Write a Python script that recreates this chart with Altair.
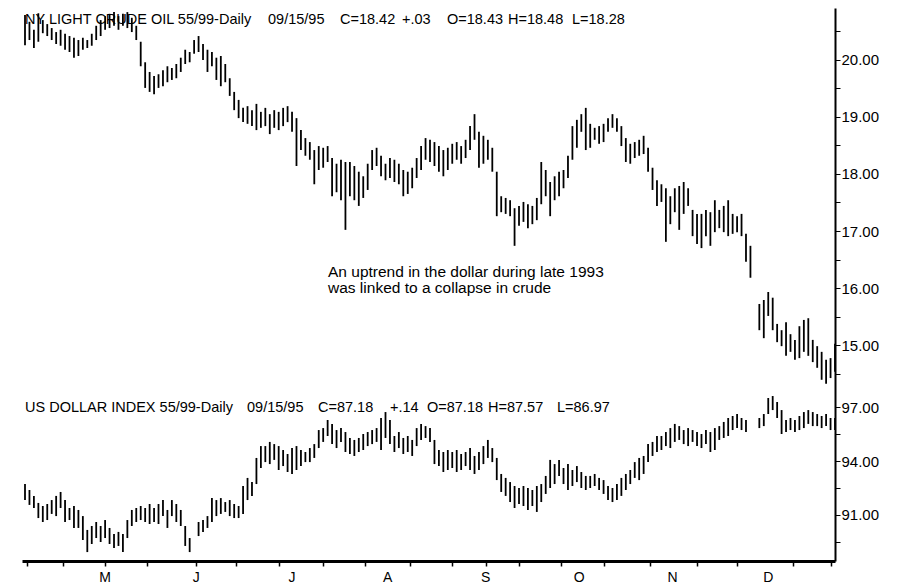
import altair as alt
import pandas as pd

# ---- data ----
crude_high = [20.79,20.67,20.53,20.82,20.70,20.63,20.56,20.49,20.53,20.46,
              20.42,20.39,20.35,20.39,20.35,20.46,20.60,20.70,20.77,20.81,
              20.84,20.77,20.81,20.84,20.74,20.60,20.32,19.96,19.79,19.72,
              19.75,19.82,19.89,19.86,19.93,20.04,20.18,20.14,20.35,20.42,
              20.28,20.18,20.14,20.04,20.07,19.93,19.68,19.44,19.30,19.16,
              19.19,19.12,19.23,19.09,19.16,19.05,19.12,19.09,19.16,19.19,
              19.09,18.98,18.77,18.63,18.56,18.42,18.49,18.46,18.49,18.28,
              18.18,18.25,18.21,18.21,18.14,18.04,17.96,18.18,18.42,18.46,
              18.32,18.18,18.28,18.25,18.18,18.07,18.04,18.11,18.28,18.49,
              18.63,18.60,18.56,18.49,18.42,18.46,18.53,18.56,18.49,18.60,
              18.84,19.05,18.74,18.67,18.60,18.46,18.04,17.61,17.58,17.54,
              17.40,17.44,17.51,17.47,17.44,17.58,18.21,18.07,17.86,17.96,
              18.04,18.07,18.32,18.84,18.95,19.05,19.16,18.88,18.81,18.84,
              18.88,18.98,19.05,18.98,18.84,18.63,18.53,18.56,18.60,18.67,
              18.46,18.11,17.89,17.82,17.75,17.61,17.75,17.79,17.86,17.75,
              17.37,17.30,17.30,17.37,17.33,17.54,17.37,17.44,17.54,17.30,
              17.26,17.30,16.95,16.74,None,15.72,15.79,15.93,15.83,15.37,
              15.26,15.40,15.19,15.09,15.33,15.44,15.47,15.09,14.98,14.88,
              14.74,14.77,15.02]
crude_low = [20.26,20.35,20.21,20.32,20.47,20.42,20.35,20.28,20.25,20.18,
             20.14,20.04,20.07,20.18,20.21,20.25,20.35,20.42,20.53,20.56,
             20.60,20.53,20.60,20.56,20.49,20.35,19.89,19.51,19.44,19.40,
             19.51,19.54,19.61,19.65,19.68,19.79,19.93,19.96,20.11,20.14,
             20.00,19.79,19.89,19.65,19.54,19.61,19.37,19.12,18.98,18.91,
             18.88,18.84,18.77,18.81,18.84,18.70,18.81,18.77,18.84,18.91,
             18.74,18.14,18.42,18.32,18.25,17.82,18.07,18.11,18.21,17.61,
             17.68,17.54,17.02,17.61,17.54,17.44,17.58,17.72,18.07,18.14,
             17.96,17.89,17.93,17.86,17.82,17.61,17.65,17.75,17.93,18.07,
             18.25,18.21,18.14,18.04,17.96,18.07,18.18,18.25,18.18,18.28,
             18.42,18.60,18.11,18.18,18.25,18.04,17.26,17.33,17.30,17.26,
             16.74,17.09,17.16,17.05,17.12,17.19,17.47,17.61,17.26,17.54,
             17.61,17.75,17.93,18.25,18.46,18.74,18.42,18.46,18.60,18.53,
             18.56,18.74,18.81,18.74,18.49,18.21,18.18,18.28,18.32,18.35,
             18.04,17.72,17.44,17.51,16.81,17.12,17.33,17.02,17.30,17.44,
             16.91,16.77,16.70,16.91,16.74,16.98,17.05,16.98,16.91,16.95,
             16.98,16.91,16.46,16.18,None,15.26,15.12,15.51,15.26,15.05,
             14.98,14.81,14.88,14.74,14.77,14.88,14.81,14.70,14.60,14.39,
             14.32,14.42,14.53]
dollar_high = [92.72,92.39,92.06,91.67,91.50,91.61,91.83,92.06,92.28,91.83,
               91.39,91.50,91.28,90.94,90.17,90.39,90.61,90.39,90.72,90.28,
               89.94,90.06,89.94,90.72,91.28,91.39,91.50,91.39,91.61,91.39,
               91.61,91.83,91.28,91.83,91.61,91.28,90.39,89.72,None,90.61,
               90.72,90.94,91.94,91.83,91.94,91.72,91.83,91.61,91.50,92.61,
               93.06,92.83,94.17,94.83,94.83,95.06,94.94,94.83,94.61,94.39,
               94.72,94.83,94.61,94.50,94.72,94.94,95.72,95.83,96.28,96.06,
               95.72,95.83,95.61,95.28,95.17,95.28,95.50,95.61,95.72,95.83,
               96.39,96.72,96.28,95.39,95.61,95.28,95.39,95.17,95.83,96.06,
               95.94,95.83,95.17,94.61,94.50,94.61,94.50,94.61,94.39,94.50,
               94.72,94.28,94.50,94.83,95.17,94.72,94.17,93.28,93.06,92.83,
               92.61,92.50,92.61,92.50,92.39,92.61,92.72,93.17,94.06,93.83,
               94.06,93.61,93.83,93.50,93.72,93.39,93.17,93.17,93.28,93.06,
               92.94,92.61,92.50,92.72,93.06,93.28,93.50,93.94,94.17,94.28,
               94.94,95.06,95.39,95.39,95.61,95.83,96.06,95.94,95.72,95.83,
               95.72,95.61,95.50,95.72,95.61,95.83,95.94,96.17,96.39,96.50,
               96.61,96.39,96.28,None,None,96.39,96.61,97.50,97.61,97.28,
               96.83,96.28,96.39,96.28,96.50,96.72,96.83,96.72,96.61,96.50,
               96.61,96.39,96.39]
dollar_low = [91.83,91.56,91.39,90.83,90.61,90.72,91.06,90.94,91.39,90.61,
              90.72,90.28,90.28,89.61,88.94,89.39,89.72,89.50,89.72,89.39,
              89.17,89.28,88.94,89.72,90.39,90.61,90.72,90.61,90.50,90.61,
              90.50,90.94,90.28,90.94,90.61,90.39,89.28,88.94,None,89.83,
              90.06,90.28,90.61,90.94,91.06,91.17,90.94,90.83,90.83,91.06,
              91.83,92.06,92.72,93.61,93.94,93.83,94.06,93.50,93.72,93.39,
              93.28,93.50,93.72,93.94,93.94,94.17,94.72,95.06,95.39,94.94,
              94.72,95.06,94.50,94.39,94.28,94.50,94.61,94.83,94.94,95.06,
              94.61,95.28,94.94,94.50,94.72,94.39,94.50,94.28,94.83,95.17,
              95.28,95.06,93.83,93.72,93.39,93.50,93.61,93.39,93.50,93.72,
              93.50,93.28,93.50,93.83,94.17,93.94,92.94,92.28,92.06,91.72,
              91.39,91.61,91.50,91.28,91.50,91.17,91.72,92.17,92.50,92.72,
              93.17,92.72,92.39,92.61,92.83,92.50,92.39,92.50,92.61,92.39,
              92.17,91.83,91.72,91.83,92.06,92.39,92.72,93.06,92.94,93.28,
              93.94,94.28,94.50,94.61,94.83,94.72,95.06,95.17,94.94,94.83,
              95.06,94.83,94.72,94.94,94.50,94.61,95.17,95.28,95.39,95.72,
              95.83,95.72,95.61,None,None,95.83,95.94,96.61,96.83,96.39,
              95.50,95.61,95.72,95.61,95.72,95.83,96.06,95.94,95.94,95.83,
              95.94,95.72,95.72]

day = list(range(len(crude_high)))

week_ticks = [0.5, 4, 8.5, 13.5, 18, 23, 27.5, 32.5, 38.5, 43, 47.5, 52.5, 57, 60,
              67, 72, 76.5, 81.5, 86.5, 91.5, 96, 100.5, 103.5, 106.5, 111, 116,
              120.5, 124.5, 130, 135, 140.5, 145.5, 151, 155.5, 160, 167, 172.5,
              177, 181]
month_pos = [18, 38.5, 60, 81.5, 103.5, 124.5, 145.5, 167]
month_lbl = ["M", "J", "J", "A", "S", "O", "N", "D"]

crude_ticks = [14.5, 15, 15.5, 16, 16.5, 17, 17.5, 18, 18.5, 19, 19.5, 20, 20.5]
dollar_ticks = [89.5, 91, 92.5, 94, 95.5, 97]

crude_title = ["NY LIGHT CRUDE OIL 55/99-Daily", "09/15/95", "C=18.42", "+.03",
               "O=18.43", "H=18.48", "L=18.28"]
dollar_title = ["US DOLLAR INDEX 55/99-Daily", "09/15/95", "C=87.18", "+.14",
                "O=87.18", "H=87.57", "L=86.97"]
note = ["An uptrend in the dollar during late 1993", "was linked to a collapse in crude"]

# layout of the header pieces (pixel offsets inside the plot area)
crude_title_x = [3, 246, 318, 380, 425, 486, 550]
dollar_title_x = [3, 225, 296, 368, 405, 466, 535]

df = pd.DataFrame({"day": day, "ch": crude_high, "cl": crude_low,
                   "dh": dollar_high, "dl": dollar_low})
cdf = df.dropna(subset=["ch", "cl"])
ddf = df.dropna(subset=["dh", "dl"])

FONT = "Liberation Sans"

xscale = alt.Scale(domain=[-0.674, 182.0], nice=False, zero=False)
xaxis = alt.Axis(values=week_ticks, labels=False, title=None, grid=False,
                 domainWidth=3, domainColor="black", tickColor="black", tickWidth=1.5,
                 tickSize=5)

crude = alt.Chart(cdf).mark_rule(color="black", strokeWidth=1.8).encode(
    x=alt.X("day:Q", scale=xscale, axis=xaxis),
    y=alt.Y("ch:Q", scale=alt.Scale(domain=[11.211, 20.912], nice=False, zero=False),
            axis=alt.Axis(orient="right", values=crude_ticks, title=None, grid=False,
                          labelExpr="datum.value % 1 == 0 ? format(datum.value, '.2f') : ''",
                          domainWidth=2, domainColor="black", tickColor="black",
                          tickSize=5, labelPadding=1, labelFont=FONT, labelFontSize=15,
                          labelColor="black", labelFlush=False, labelOverlap=False)),
    y2="cl:Q",
)

dollar = alt.Chart(ddf).mark_rule(color="black", strokeWidth=1.8).encode(
    x=alt.X("day:Q", scale=xscale, axis=xaxis),
    y=alt.Y("dh:Q", scale=alt.Scale(domain=[88.444, 119.17], nice=False, zero=False),
            axis=alt.Axis(orient="right", values=dollar_ticks, title=None, grid=False,
                          labelExpr="datum.value % 3 == 1 ? format(datum.value, '.2f') : ''",
                          domain=False, tickColor="black", tickSize=5, labelPadding=1,
                          labelFont=FONT, labelFontSize=15, labelColor="black",
                          labelFlush=False, labelOverlap=False)),
    y2="dl:Q",
)

months = alt.Chart(pd.DataFrame({"pos": month_pos, "lbl": month_lbl})).mark_text(
    align="center", baseline="middle", font=FONT, fontSize=14, color="black"
).encode(x=alt.X("pos:Q", scale=xscale), y=alt.value(570), text="lbl:N")


def header(pieces, xs, ypix, size):
    layers = []
    for t, xp in zip(pieces, xs):
        layers.append(
            alt.Chart(pd.DataFrame({"t": [t]})).mark_text(
                align="left", baseline="middle", font=FONT, fontSize=size, color="black"
            ).encode(x=alt.value(xp), y=alt.value(ypix), text="t:N")
        )
    return layers


texts = []
texts += header(crude_title, crude_title_x, 12, 14.5)
texts += header(dollar_title, dollar_title_x, 400, 14.5)
texts += header([note[0]], [306], 264, 15.5)
texts += header([note[1]], [306], 280, 15.5)

chart = alt.layer(crude, dollar, months, *texts).resolve_scale(
    y="independent"
).properties(
    width=813, height=553,
    padding={"left": 14, "top": 0, "right": 60, "bottom": 26},
    autosize="none", background="white",
).configure_view(stroke=None)

chart.save("out.html", embed_options={"renderer": "svg", "actions": False})
